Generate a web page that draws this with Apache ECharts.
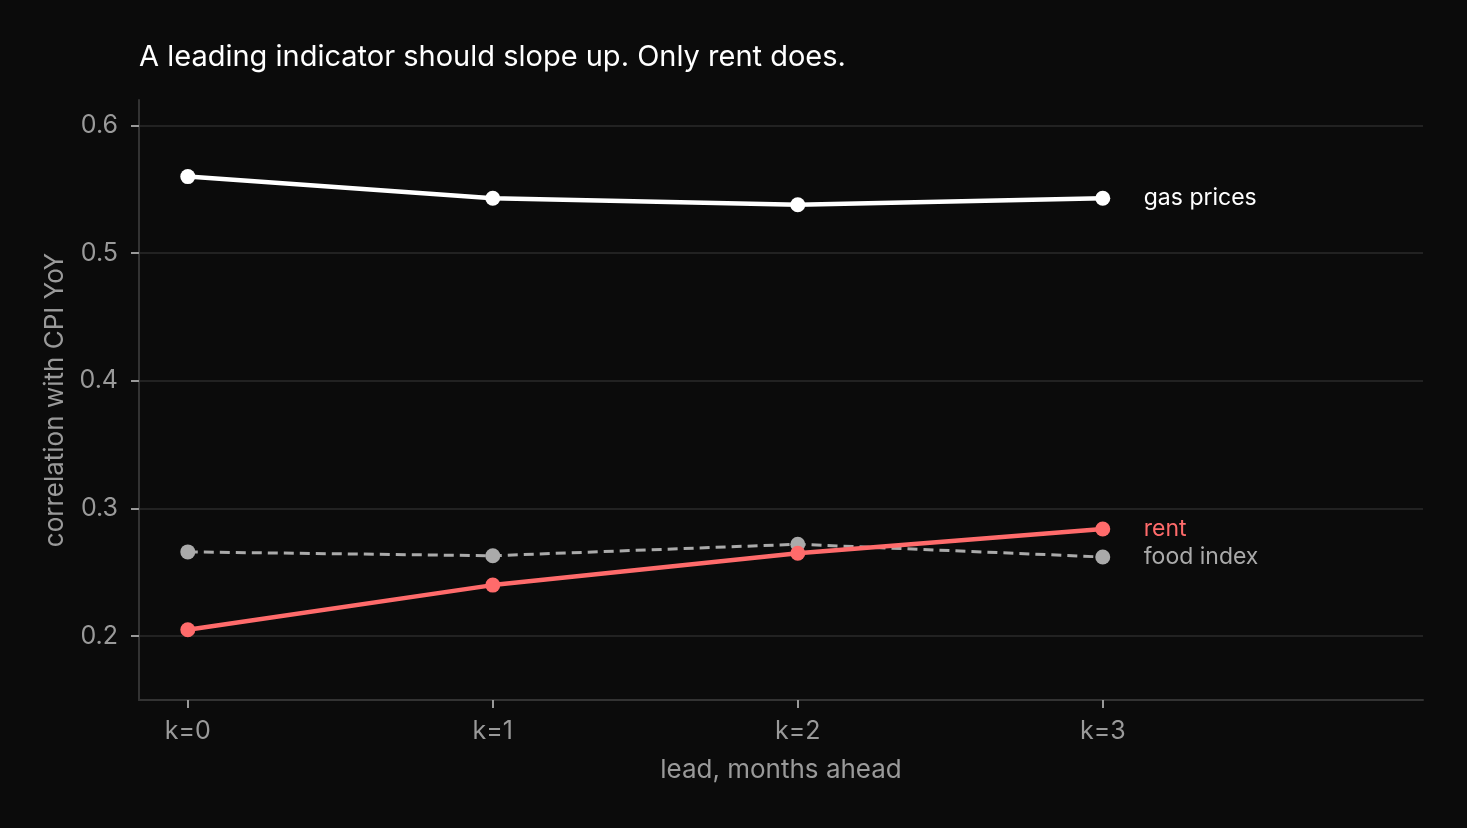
<!DOCTYPE html>
<html style="height: 100%">
<head>
<meta charset="utf-8">
<style type="text/css">
    body, html, #chart { width: 100%; height: 100%; margin: 0; overflow: hidden; background: #0b0b0b; }
</style>
</head>
<body>
<div id="chart"></div>
<script src="https://cdn.jsdelivr.net/npm/echarts@6/dist/echarts.min.js"></script>
<script type="text/javascript">
// lead k (months ahead) and correlations
var leads = [0, 1, 2, 3];
var leadLabels = ['k=0', 'k=1', 'k=2', 'k=3'];
var gasPrices = [0.560, 0.543, 0.538, 0.543];
var foodIndex = [0.266, 0.263, 0.272, 0.262];
var rent = [0.205, 0.240, 0.265, 0.284];
var yTicks = [0.2, 0.3, 0.4, 0.5, 0.6];

var font = 'Inter, "Liberation Sans", sans-serif';
var chart = echarts.init(document.getElementById('chart'));

function pairs(vals) {
    var out = [];
    for (var i = 0; i < leads.length; i++) out.push([leads[i], vals[i]]);
    return out;
}

function lineSeries(name, vals, color, width, dashed) {
    return {
        name: name,
        type: 'line',
        data: pairs(vals),
        symbol: 'circle',
        symbolSize: 15,
        itemStyle: { color: color },
        lineStyle: { color: color, width: width, type: dashed ? [10, 6] : 'solid' },
        endLabel: {
            show: true,
            formatter: name,
            distance: 41,
            color: color,
            fontSize: 23,
            fontFamily: font
        },
        animation: false,
        z: dashed ? 2 : 3
    };
}

var option = {
    backgroundColor: '#0b0b0b',
    title: {
        text: 'A leading indicator should slope up. Only rent does.',
        left: 134,
        top: 38,
        textStyle: { color: '#ffffff', fontSize: 29, fontWeight: 'normal', fontFamily: font }
    },
    grid: { left: 139, right: 44, top: 100, bottom: 128 },
    xAxis: {
        type: 'value',
        min: -0.16,
        max: 4.05,
        name: 'lead, months ahead',
        nameLocation: 'middle',
        nameGap: 57,
        nameTextStyle: { color: '#9a9a9a', fontSize: 26, fontFamily: font },
        axisLine: { show: true, onZero: false, lineStyle: { color: '#333333', width: 2 } },
        axisTick: { show: true, customValues: leads, length: 8, lineStyle: { color: '#999999', width: 2 } },
        axisLabel: {
            customValues: leads,
            color: '#9a9a9a', fontSize: 25, fontFamily: font, margin: 19,
            formatter: function (v) { return leadLabels[leads.indexOf(v)]; }
        },
        splitLine: { show: false }
    },
    yAxis: {
        type: 'value',
        min: 0.15,
        max: 0.62,
        name: 'correlation with CPI YoY',
        nameLocation: 'middle',
        nameGap: 71,
        nameTextStyle: { color: '#9a9a9a', fontSize: 26, fontFamily: font },
        axisLine: { show: true, onZero: false, lineStyle: { color: '#333333', width: 2 } },
        axisTick: { show: true, customValues: yTicks, length: 8, lineStyle: { color: '#999999', width: 2 } },
        axisLabel: {
            customValues: yTicks,
            color: '#9a9a9a', fontSize: 25, fontFamily: font, margin: 21,
            formatter: function (v) { return v.toFixed(1); }
        },
        splitLine: { show: true, lineStyle: { color: '#222222', width: 2 } }
    },
    series: [
        lineSeries('gas prices', gasPrices, '#ffffff', 4.5, false),
        lineSeries('food index', foodIndex, '#aaaaaa', 3, true),
        lineSeries('rent', rent, '#ff6b6b', 4.5, false)
    ]
};
chart.setOption(option);
</script>
</body>
</html>
